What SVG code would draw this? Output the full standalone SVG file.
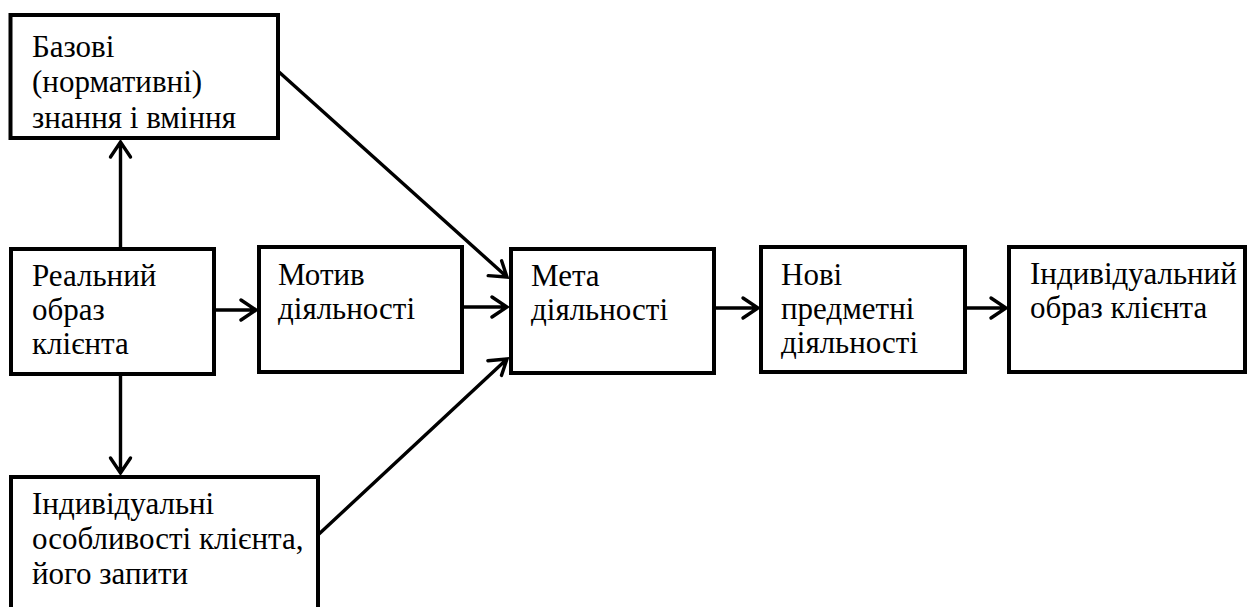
<svg xmlns="http://www.w3.org/2000/svg" width="1248" height="607" viewBox="0 0 1248 607">
  <rect width="1248" height="607" fill="#fff"/>

  <g id="connectors" fill="none" stroke="#000" stroke-width="3.4" stroke-linecap="round">
    <path d="M120.5,249 V142 M110.5,157 L120.5,142 L130.5,157"/>
    <path d="M120.5,374 V473 M110.5,458 L120.5,473 L130.5,458"/>
    <path d="M212,310 H256 M241,300 L256,310 L241,320"/>
    <path d="M462,307 H507 M492,297 L507,307 L492,317"/>
    <path d="M279,72 L507,277 M488.2,275.6 L507,277 L501.6,260.8"/>
    <path d="M319,534 L507,359 M501.5,375.4 L507,359 L487.9,360.7"/>
    <path d="M714,308 H758 M743,298 L758,308 L743,318"/>
    <path d="M965,308 H1006 M991,298 L1006,308 L991,318"/>
  </g>

  <g id="node-bazovi">
    <rect x="10.5" y="15" width="267.5" height="123" fill="#fff" stroke="#000" stroke-width="4"/>
    <text x="32" y="57" font-family="Liberation Serif" font-size="31">Базові</text>
    <text x="32" y="92" font-family="Liberation Serif" font-size="31">(нормативні)</text>
    <text x="32" y="128" font-family="Liberation Serif" font-size="31">знання і вміння</text>
  </g>

  <g id="node-realnyi">
    <rect x="11" y="249" width="203" height="125" fill="#fff" stroke="#000" stroke-width="4"/>
    <text x="32" y="286" font-family="Liberation Serif" font-size="31">Реальний</text>
    <text x="32" y="320" font-family="Liberation Serif" font-size="31">образ</text>
    <text x="32" y="354" font-family="Liberation Serif" font-size="31">клієнта</text>
  </g>

  <g id="node-motyv">
    <rect x="259" y="247" width="203" height="125" fill="#fff" stroke="#000" stroke-width="4"/>
    <text x="278" y="285" font-family="Liberation Serif" font-size="31">Мотив</text>
    <text x="278" y="319" font-family="Liberation Serif" font-size="31">діяльності</text>
  </g>

  <g id="node-meta">
    <rect x="511" y="249" width="203" height="124" fill="#fff" stroke="#000" stroke-width="4"/>
    <text x="531" y="286" font-family="Liberation Serif" font-size="31">Мета</text>
    <text x="531" y="320" font-family="Liberation Serif" font-size="31">діяльності</text>
  </g>

  <g id="node-novi">
    <rect x="761" y="247" width="204" height="125" fill="#fff" stroke="#000" stroke-width="4"/>
    <text x="781" y="285" font-family="Liberation Serif" font-size="31">Нові</text>
    <text x="781" y="319" font-family="Liberation Serif" font-size="31">предметні</text>
    <text x="781" y="353" font-family="Liberation Serif" font-size="31">діяльності</text>
  </g>

  <g id="node-indyv-obraz">
    <rect x="1009" y="247" width="236" height="125" fill="#fff" stroke="#000" stroke-width="4"/>
    <text x="1030" y="284" font-family="Liberation Serif" font-size="31">Індивідуальний</text>
    <text x="1030" y="318" font-family="Liberation Serif" font-size="31">образ клієнта</text>
  </g>

  <g id="node-osoblyvosti">
    <rect x="11" y="477" width="307" height="150" fill="#fff" stroke="#000" stroke-width="4"/>
    <text x="32" y="514" font-family="Liberation Serif" font-size="31">Індивідуальні</text>
    <text x="32" y="549" font-family="Liberation Serif" font-size="31">особливості клієнта,</text>
    <text x="32" y="584" font-family="Liberation Serif" font-size="31">його запити</text>
  </g>
</svg>
